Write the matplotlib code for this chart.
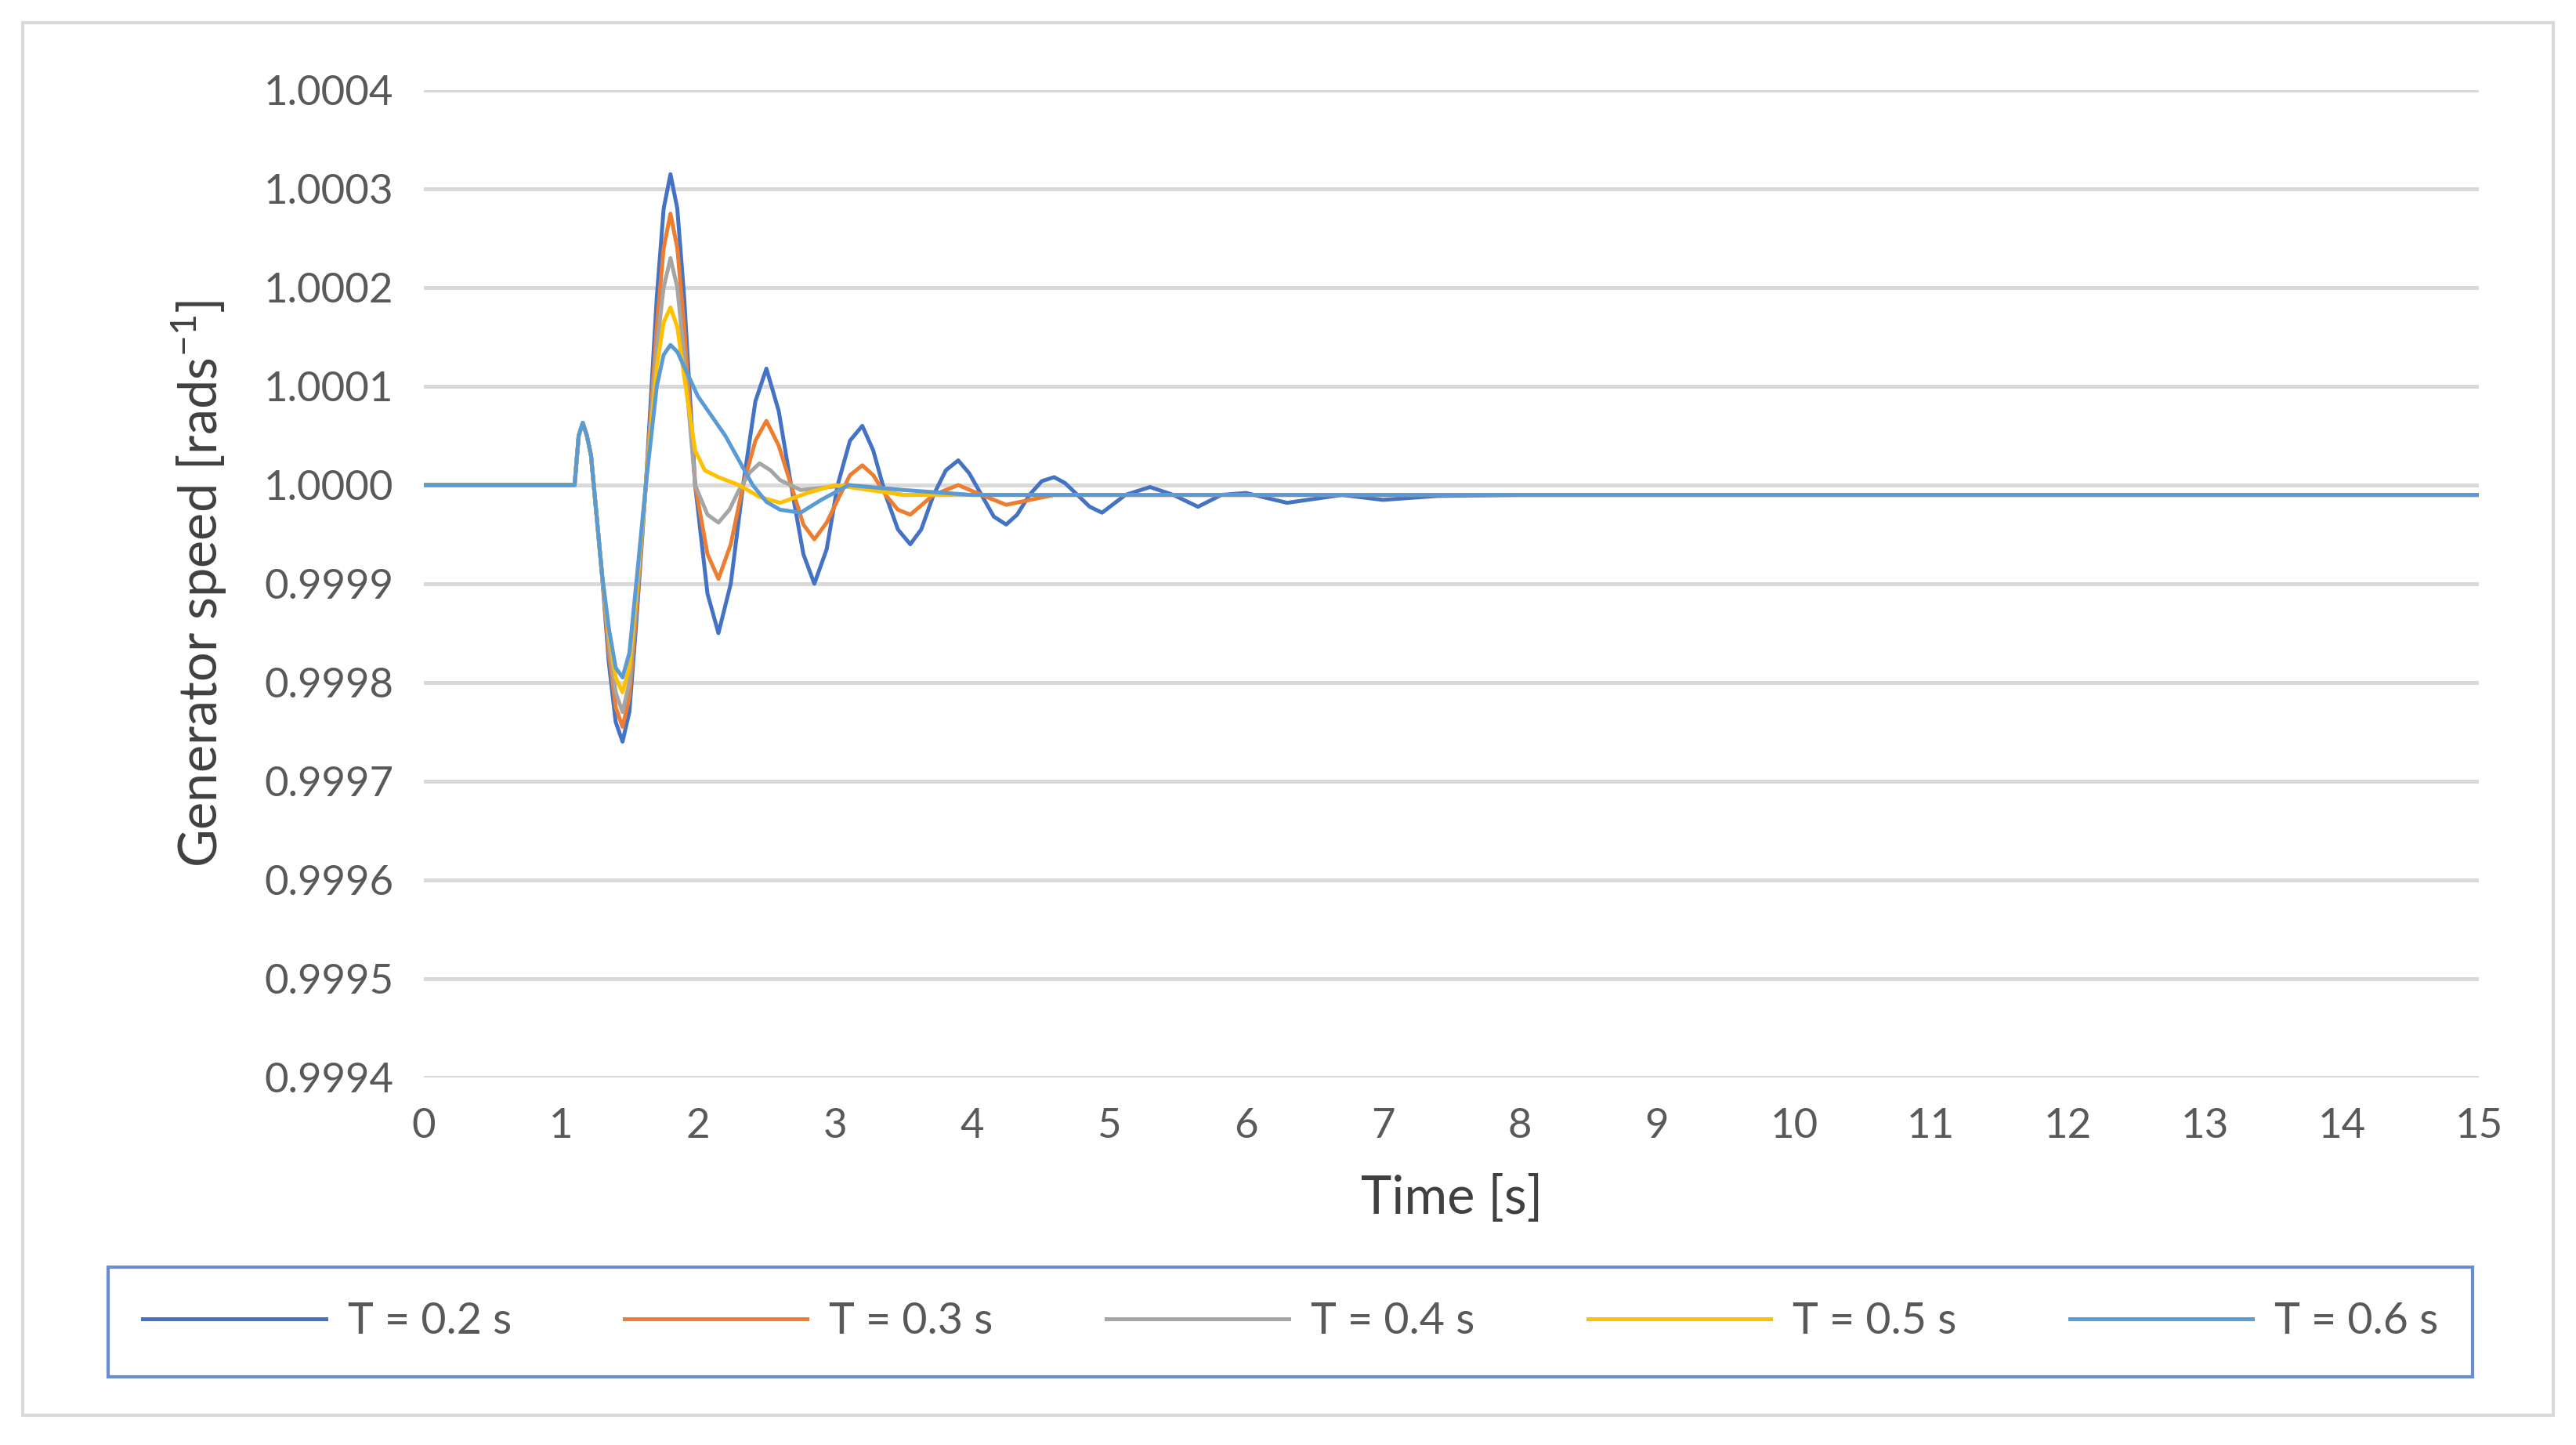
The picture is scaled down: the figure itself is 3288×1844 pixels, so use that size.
import matplotlib.pyplot as plt
import numpy as np
from matplotlib.patches import Rectangle

plt.rcParams['font.family'] = ['Lato', 'DejaVu Sans']

# key points (time [s], deviation from 1 in units of 1e-4)
t02 = [0, 1.1, 1.13, 1.16, 1.19, 1.22, 1.26, 1.3, 1.35, 1.4, 1.45, 1.5, 1.55, 1.62, 1.7, 1.75, 1.8, 1.85, 1.9, 1.98,
       2.07, 2.15, 2.24, 2.33, 2.42, 2.5, 2.59, 2.68,
       2.77, 2.85, 2.94, 3.02, 3.11, 3.2, 3.28, 3.37, 3.46, 3.55, 3.63, 3.72, 3.81, 3.9, 3.98, 4.07, 4.16, 4.25, 4.33,
       4.42, 4.51, 4.6, 4.68, 4.77, 4.86, 4.95, 5.12, 5.3, 5.47,
       5.65, 5.82, 6.0, 6.3, 6.7, 7.0, 7.4, 8.0, 15]
v02 = [0, 0, 0.5, 0.63, 0.5, 0.3, -0.3, -0.9, -1.8, -2.4, -2.6, -2.3, -1.4, 0, 1.9, 2.8, 3.15, 2.8, 1.9, 0,
       -1.1, -1.5, -1.0, 0, 0.85, 1.18, 0.75, 0,
       -0.7, -1.0, -0.65, 0, 0.45, 0.6, 0.35, -0.1, -0.45, -0.6, -0.45, -0.1, 0.15, 0.25, 0.12, -0.1, -0.32, -0.4, -0.3,
       -0.1, 0.04, 0.08, 0.02, -0.1, -0.22, -0.28, -0.1, -0.02, -0.1,
       -0.22, -0.1, -0.08, -0.18, -0.1, -0.15, -0.11, -0.1, -0.1]
t03 = [0, 1.1, 1.13, 1.16, 1.19, 1.22, 1.26, 1.3, 1.35, 1.4, 1.45, 1.5, 1.55, 1.62, 1.7, 1.75, 1.8, 1.85, 1.9, 1.98,
       2.07, 2.15, 2.24, 2.33, 2.42, 2.5, 2.59, 2.68,
       2.77, 2.85, 2.94, 3.02, 3.11, 3.2, 3.28, 3.37, 3.46, 3.55, 3.72, 3.9, 4.07, 4.25, 4.6, 15]
v03 = [0, 0, 0.5, 0.63, 0.5, 0.3, -0.3, -0.9, -1.7, -2.25, -2.45, -2.15, -1.3, 0, 1.6, 2.4, 2.75, 2.4, 1.6, 0,
       -0.7, -0.95, -0.6, 0, 0.45, 0.65, 0.4, 0,
       -0.4, -0.55, -0.38, -0.15, 0.1, 0.2, 0.1, -0.1, -0.25, -0.3, -0.1, 0.0, -0.1, -0.2, -0.1, -0.1]
t04 = [0, 1.1, 1.13, 1.16, 1.19, 1.22, 1.26, 1.3, 1.35, 1.4, 1.45, 1.5, 1.55, 1.62, 1.7, 1.75, 1.8, 1.85, 1.9, 1.98,
       2.07, 2.15, 2.23, 2.3, 2.38, 2.45, 2.53, 2.6, 2.75, 3.1, 3.5, 15]
v04 = [0, 0, 0.5, 0.63, 0.5, 0.3, -0.3, -0.9, -1.6, -2.1, -2.3, -2.0, -1.2, 0, 1.4, 2.0, 2.3, 2.0, 1.3, 0,
       -0.3, -0.38, -0.25, -0.05, 0.13, 0.22, 0.15, 0.05, -0.05, 0, -0.1, -0.1]
t05 = [0, 1.1, 1.13, 1.16, 1.19, 1.22, 1.26, 1.3, 1.35, 1.4, 1.45, 1.5, 1.55, 1.62, 1.7, 1.75, 1.8, 1.85, 1.9, 1.98,
       2.05, 2.15, 2.3, 2.45, 2.6, 2.8, 3.0, 3.5, 15]
v05 = [0, 0, 0.5, 0.63, 0.5, 0.3, -0.3, -0.9, -1.5, -1.95, -2.1, -1.85, -1.1, 0, 1.2, 1.65, 1.8, 1.6, 1.1, 0.35,
       0.15, 0.08, 0.0, -0.12, -0.18, -0.08, 0, -0.1, -0.1]
t06 = [0, 1.1, 1.13, 1.16, 1.19, 1.22, 1.26, 1.3, 1.35, 1.4, 1.45, 1.5, 1.55, 1.62, 1.7, 1.75, 1.8, 1.85, 1.9, 2.0,
       2.2, 2.4, 2.5, 2.6, 2.75, 2.9, 3.1, 3.5, 4.0, 15]
v06 = [0, 0, 0.5, 0.63, 0.5, 0.3, -0.3, -0.9, -1.45, -1.85, -1.95, -1.7, -1.0, 0, 1.0, 1.32, 1.42, 1.35, 1.2, 0.9,
       0.5, 0.0, -0.17, -0.25, -0.28, -0.15, 0, -0.05, -0.1, -0.1]

labels = ["T = 0.2 s", "T = 0.3 s", "T = 0.4 s", "T = 0.5 s", "T = 0.6 s"]
colors = ["#4472C4", "#ED7D31", "#A5A5A5", "#FFC000", "#5B9BD5"]
series = [(t02, v02), (t03, v03), (t04, v04), (t05, v05), (t06, v06)]

fig = plt.figure(figsize=(16.44, 9.22), dpi=200)
ax = fig.add_axes([258 / 1568, 1 - 656 / 880, (1509 - 258) / 1568, (656 - 55) / 880])

for (t, v), lab, c in zip(series, labels, colors):
    ax.plot(t, 1 + np.array(v) * 1e-4, color=c, lw=1.8, label=lab, solid_joinstyle="round")

ax.set_xlim(0, 15)
ax.set_ylim(0.9994, 1.0004)
ax.set_xticks(range(16))
yt = np.arange(0.9994, 1.00041, 0.0001)
ax.set_yticks(yt)
ax.set_yticklabels([f"{y:.4f}" for y in yt])
ax.grid(axis="y", color="#D9D9D9", lw=1.8)
ax.set_axisbelow(True)
for s in ax.spines.values():
    s.set_visible(False)
ax.tick_params(length=0, labelsize=19, colors="#595959", pad=14)
ax.set_xlabel("Time [s]", fontsize=24, color="#404040", labelpad=14)
ax.set_ylabel("Generator speed [rads$^{\\mathregular{-1}}$]", fontsize=24, color="#404040", labelpad=16)

leg = fig.legend(loc="center", bbox_to_anchor=((143 + 1428) / 2 / 1568, 1 - 805 / 880), ncol=5,
                 fontsize=20, frameon=True, fancybox=False, handlelength=4.2, columnspacing=2.6,
                 borderpad=0.8, handletextpad=0.5)
leg.get_frame().set_edgecolor("#4472C4")
leg.get_frame().set_linewidth(1.5)
for tx in leg.get_texts():
    tx.set_color("#595959")

fig.patches.append(Rectangle((14 / 1568, 1 - 862 / 880), 1540 / 1568, 848 / 880, transform=fig.transFigure,
                             fill=False, edgecolor="#D9D9D9", lw=1.5))
fig.savefig("out.png", dpi=200)
